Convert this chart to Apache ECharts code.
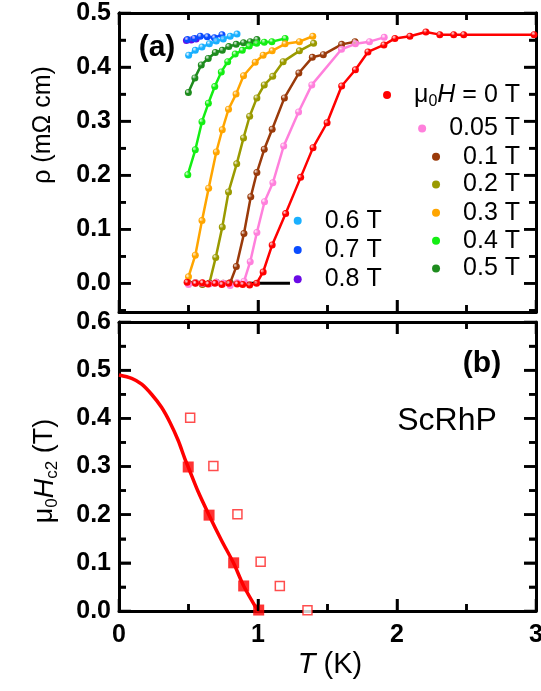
<!DOCTYPE html>
<html><head><meta charset="utf-8">
<script src="https://cdn.jsdelivr.net/npm/echarts@6/dist/echarts.min.js"></script>
<style>html,body{margin:0;padding:0;background:#fff}#c{width:541px;height:691px}</style>
</head><body><div id="c"></div>
<script>
// ---------- DATA (panel a: resistivity vs T for each field) ----------
const T_0   = [0.49,0.55,0.60,0.64,0.69,0.74,0.79,0.85,0.89,0.94,0.99,1.037,1.102,1.199,1.307,1.396,1.497,1.602,1.701,1.791,1.906,1.985,2.093,2.208,2.308,2.408,2.480,2.986];
const R_0   = [0.002,0.000,0.001,-0.001,0.000,-0.002,0.000,-0.001,-0.002,-0.003,0.000,0.021,0.071,0.129,0.196,0.251,0.297,0.365,0.395,0.428,0.441,0.453,0.457,0.465,0.460,0.460,0.460,0.460];
const T_005 = [0.50,0.55,0.60,0.65,0.70,0.75,0.80,0.85,0.90,0.944,0.992,1.047,1.107,1.185,1.292,1.387,1.601,1.701,1.802,1.908];
const R_005 = [-0.002,0.001,0.000,-0.001,0.002,0.000,-0.004,0.001,0.004,0.040,0.094,0.151,0.186,0.254,0.317,0.367,0.433,0.443,0.447,0.455];
const T_01  = [0.50,0.55,0.60,0.65,0.70,0.75,0.80,0.844,0.899,0.948,0.992,1.045,1.102,1.190,1.294,1.391,1.470,1.602,1.698];
const R_01  = [0.000,0.001,-0.001,0.000,0.002,0.000,0.001,0.031,0.092,0.160,0.205,0.248,0.285,0.343,0.389,0.418,0.423,0.442,0.447];
const T_02  = [0.55,0.60,0.65,0.696,0.743,0.788,0.847,0.896,0.940,0.992,1.045,1.106,1.181,1.298,1.400];
const R_02  = [0.001,-0.002,0.000,0.048,0.104,0.169,0.221,0.269,0.309,0.343,0.367,0.383,0.410,0.430,0.444];
const T_03  = [0.50,0.549,0.597,0.645,0.700,0.743,0.788,0.842,0.896,0.980,1.037,1.102,1.195,1.298,1.394];
const R_03  = [0.012,0.052,0.116,0.176,0.243,0.284,0.322,0.350,0.384,0.409,0.422,0.430,0.443,0.447,0.457];
const T_04  = [0.495,0.549,0.597,0.643,0.689,0.736,0.782,0.836,0.887,0.937,0.991,1.045,1.100,1.195];
const R_04  = [0.201,0.247,0.299,0.333,0.364,0.391,0.410,0.424,0.431,0.439,0.444,0.446,0.447,0.453];
const T_05  = [0.499,0.546,0.592,0.642,0.693,0.743,0.790,0.843,0.896,0.944,0.992];
const R_05  = [0.353,0.380,0.404,0.416,0.427,0.431,0.438,0.442,0.445,0.447,0.451];
const T_06  = [0.501,0.549,0.597,0.650,0.700,0.750,0.800,0.849];
const R_06  = [0.422,0.431,0.437,0.443,0.448,0.452,0.457,0.461];
const T_07  = [0.492,0.542,0.585,0.635,0.686,0.741];
const R_07  = [0.451,0.453,0.457,0.456,0.454,0.460];
const T_08  = [0.485,0.520,0.555];
const R_08  = [0.449,0.450,0.452];
const BASE_T = [0.475,1.23];
const BASE_R = [0,0];

// ---------- DATA (panel b: upper critical field) ----------
const FIT_T  = [0,0.091,0.163,0.234,0.306,0.366,0.426,0.474,0.498,0.569,0.648,0.737,0.825,0.897,1.0];
const FIT_H  = [0.490,0.483,0.471,0.450,0.423,0.392,0.354,0.316,0.299,0.248,0.199,0.147,0.099,0.052,0.0];
const FILL_T = [0.498,0.648,0.825,0.897,1.005];
const FILL_H = [0.299,0.199,0.100,0.052,0.002];
const OPEN_T = [0.512,0.679,0.852,1.019,1.157,1.356];
const OPEN_H = [0.401,0.301,0.201,0.102,0.052,0.0015];

// ---------- TICKS ----------
const RHO_TICKS = [0,0.1,0.2,0.3,0.4,0.5];
const RHO_MINOR = [-0.05,0.05,0.15,0.25,0.35,0.45];
const X_MAJOR = [0,1,2,3];
const X_MINOR = [0.5,1.5,2.5];
const H_MAJOR = [0,0.1,0.2,0.3,0.4,0.5,0.6];
const H_MINOR = [0.05,0.15,0.25,0.35,0.45,0.55];

// ---------- STYLE / LAYOUT ----------
const FONT = "'Liberation Sans', Arial, sans-serif";
const zip = (a,b) => a.map((x,i) => [x,b[i]]);
const BLK = () => ({color:'#000', width:2.5});
const AXLINE = () => ({show:true, onZero:false, lineStyle:{color:'#000', width:3}});
const LBL = () => ({fontSize:25, fontWeight:'bold', fontFamily:FONT, color:'#000'});

function xAx(grid, pos, labels){
  return {type:'value', gridIndex:grid, position:pos, min:0, max:3, interval:1,
    axisLine:AXLINE(), axisTick:{show:true, inside:true, length:12, lineStyle:BLK()},
    minorTick:{show:true, splitNumber:2, length:7, lineStyle:BLK()},
    splitLine:{show:false}, minorSplitLine:{show:false},
    axisLabel:Object.assign({show:labels, margin:12}, LBL())};
}
function yTop(pos, ticks, len, labels){
  return {type:'value', gridIndex:0, position:pos, min:-0.053, max:0.5,
    axisLine:AXLINE(), axisTick:{show:true, inside:true, length:len, customValues:ticks.slice(), lineStyle:BLK()},
    splitLine:{show:false},
    axisLabel:Object.assign({show:labels, margin:8, customValues:ticks.slice(), formatter:v=>v.toFixed(1)}, LBL())};
}
function yBot(pos, labels){
  return {type:'value', gridIndex:1, position:pos, min:0, max:0.6, interval:0.1,
    axisLine:AXLINE(), axisTick:{show:true, inside:true, length:12, lineStyle:BLK()},
    minorTick:{show:true, splitNumber:2, length:7, lineStyle:BLK()},
    splitLine:{show:false}, minorSplitLine:{show:false},
    axisLabel:Object.assign({show:labels, margin:8, formatter:v=>v.toFixed(1)}, LBL())};
}

const curves = [
  {name:'0.8 T',  T:T_08,  R:R_08,  color:'#6a0ae6'},
  {name:'0.7 T',  T:T_07,  R:R_07,  color:'#0a4cff'},
  {name:'0.6 T',  T:T_06,  R:R_06,  color:'#1ab0ff'},
  {name:'0.5 T',  T:T_05,  R:R_05,  color:'#1e8c1e'},
  {name:'0.4 T',  T:T_04,  R:R_04,  color:'#14ee14'},
  {name:'0.3 T',  T:T_03,  R:R_03,  color:'#ffa500'},
  {name:'0.2 T',  T:T_02,  R:R_02,  color:'#9a9a00'},
  {name:'0.1 T',  T:T_01,  R:R_01,  color:'#9a3a0a'},
  {name:'0.05 T', T:T_005, R:R_005, color:'#ff80dc'},
  {name:'0 T',    T:T_0,   R:R_0,   color:'#ff0000'}
];
function ball(c){
  return {type:'radial', x:0.38, y:0.35, r:0.65,
    colorStops:[{offset:0, color:'rgba(255,255,255,0.55)'},{offset:0.45, color:c},{offset:1, color:c}]};
}

// frame ticks (inward, on all four sides) placed through the axes' own scales
function tickData(yMajor, yMinor){
  const out = [];
  X_MAJOR.forEach(v => { out.push([v,0,12]); out.push([v,1,12]); });
  X_MINOR.forEach(v => { out.push([v,0,7]);  out.push([v,1,7]); });
  yMajor.forEach(v => { out.push([v,2,12]); out.push([v,3,12]); });
  yMinor.forEach(v => { out.push([v,2,7]);  out.push([v,3,7]); });
  return out;
}
function tickSeries(xi, yi, yMajor, yMinor){
  return {type:'custom', name:'frameTicks'+xi, xAxisIndex:xi, yAxisIndex:yi, silent:true, z:5,
    data:tickData(yMajor, yMinor),
    renderItem:function(params, api){
      const v = api.value(0), dir = api.value(1), len = api.value(2);
      const cs = params.coordSys;
      let shape;
      if (dir < 2) {
        const px = api.coord([v, 0])[0];
        const yb = dir === 0 ? cs.y + cs.height : cs.y;
        const s = dir === 0 ? -1 : 1;
        shape = {x1:px, y1:yb, x2:px, y2:yb + s*len};
      } else {
        const py = api.coord([0, v])[1];
        const xb = dir === 2 ? cs.x : cs.x + cs.width;
        const s = dir === 2 ? 1 : -1;
        shape = {x1:xb, y1:py, x2:xb + s*len, y2:py};
      }
      return {type:'line', shape:shape, style:{stroke:'#000', lineWidth:2.5}};
    }};
}

const series = [{type:'line', name:'base', xAxisIndex:0, yAxisIndex:0, data:zip(BASE_T,BASE_R),
  symbol:'none', lineStyle:{color:'#000', width:3}, z:2}];
curves.forEach(c => series.push({type:'line', name:c.name, xAxisIndex:0, yAxisIndex:0,
  data:zip(c.T,c.R), symbol:'circle', symbolSize:7, color:c.color,
  itemStyle:{color:ball(c.color)}, lineStyle:{color:c.color, width:2.5}, z:2}));
series.push({type:'line', name:'fit', xAxisIndex:2, yAxisIndex:4, data:zip(FIT_T,FIT_H),
  smooth:0.3, symbol:'none', lineStyle:{color:'#ff0000', width:3.5}, z:2});
series.push({type:'scatter', name:'filled', xAxisIndex:2, yAxisIndex:4, data:zip(FILL_T,FILL_H),
  symbol:'rect', symbolSize:11, itemStyle:{color:'#ff0000'}, z:3});
series.push({type:'scatter', name:'open', xAxisIndex:2, yAxisIndex:4, data:zip(OPEN_T,OPEN_H),
  symbol:'rect', symbolSize:9, itemStyle:{color:'#fff', borderColor:'#ff2020', borderWidth:1.5}, z:3});
series.push(tickSeries(0, 0, RHO_TICKS, RHO_MINOR));
series.push(tickSeries(2, 4, H_MAJOR, H_MINOR));

const RICH = () => ({
  a:{fontSize:25, fontFamily:FONT, color:'#000', lineHeight:30},
  i:{fontSize:25, fontFamily:FONT, color:'#000', fontStyle:'italic', lineHeight:30},
  s:{fontSize:16, fontFamily:FONT, color:'#000', lineHeight:16, verticalAlign:'bottom'}
});
const colorOf = n => curves.find(c => c.name===n).color;
function leg(name, pos, cy){
  return Object.assign({show:true, data:[name], orient:'vertical', icon:'circle',
    itemWidth:44, itemHeight:8, padding:0, itemGap:0, top:cy-15, selectedMode:false,
    itemStyle:{color:colorOf(name)},
    textStyle:{fontSize:25, fontFamily:FONT, color:'#000', lineHeight:30, rich:RICH()},
    formatter: n => n==='0 T' ? '{a|μ}{s|0}{i|H}{a| = 0 T}' : '{a|'+n+'}'}, pos);
}
const RIGHT_NAMES = ['0 T','0.05 T','0.1 T','0.2 T','0.3 T','0.4 T','0.5 T'];
const RIGHT_Y = [95,128.5,156.7,184.5,212.7,240.7,268.5];
const LEFT_NAMES = ['0.6 T','0.7 T','0.8 T'];
const LEFT_Y = [220.7,250,279.3];
const legends = RIGHT_NAMES.map((n,i)=>leg(n,{right:21},RIGHT_Y[i]))
  .concat(LEFT_NAMES.map((n,i)=>leg(n,{left:293.7},LEFT_Y[i])));

const TRICH = (fs) => ({
  a:{fontSize:fs, fontFamily:FONT, color:'#000', lineHeight:fs+5},
  i:{fontSize:fs, fontFamily:FONT, color:'#000', fontStyle:'italic', lineHeight:fs+5},
  s:{fontSize:Math.round(fs*0.64), fontFamily:FONT, color:'#000', lineHeight:Math.round(fs*0.64), verticalAlign:'bottom'}
});
const graphic = [
  {type:'text', x:157, y:48, style:{text:'(a)', fontSize:30, fontWeight:'bold', fontFamily:FONT, fill:'#000', align:'center', verticalAlign:'middle'}},
  {type:'text', x:482, y:364, style:{text:'(b)', fontSize:30, fontWeight:'bold', fontFamily:FONT, fill:'#000', align:'center', verticalAlign:'middle'}},
  {type:'text', x:447, y:421, style:{text:'ScRhP', fontSize:32, fontFamily:FONT, fill:'#000', align:'center', verticalAlign:'middle'}},
  {type:'text', x:43, y:125, rotation:Math.PI/2, style:{text:'{a|ρ (mΩ cm)}', rich:TRICH(25), align:'center', verticalAlign:'middle'}},
  {type:'text', x:45, y:471, rotation:Math.PI/2, style:{text:'{a|μ}{s|0}{i|H}{s|c2}{a| (T)}', rich:TRICH(27), align:'center', verticalAlign:'middle'}},
  {type:'text', x:330, y:665, style:{text:'{i|T}{a| (K)}', rich:TRICH(29), align:'center', verticalAlign:'middle'}}
];

const option = {
  animation:false,
  grid:[
    {left:119, top:13, width:417, height:299, outerBoundsMode:'none'},
    {left:119, top:322, width:417, height:289, outerBoundsMode:'none'}
  ],
  xAxis:[xAx(0,'bottom',false), xAx(0,'top',false), xAx(1,'bottom',true), xAx(1,'top',false)],
  yAxis:[yTop('left',RHO_TICKS,12,true), yTop('left',RHO_MINOR,7,false),
         yTop('right',RHO_TICKS,12,false), yTop('right',RHO_MINOR,7,false),
         yBot('left',true), yBot('right',false)],
  legend:legends,
  graphic:graphic,
  series:series
};
const chart = echarts.init(document.getElementById('c'), null, {renderer:'canvas'});
chart.setOption(option);
</script></body></html>
